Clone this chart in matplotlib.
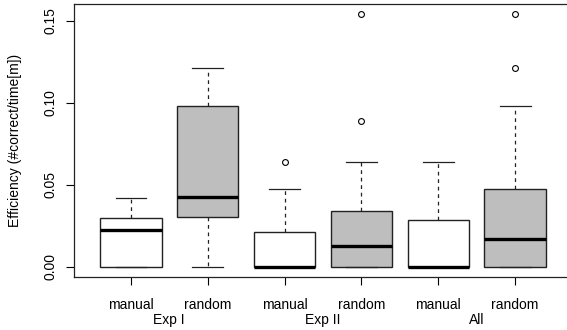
import matplotlib.pyplot as plt

plt.rcParams['font.family'] = ['Liberation Sans', 'DejaVu Sans']

# values
groups = ['Exp I', 'Exp II', 'All']
methods = ['manual', 'random']
q1 = [0.0, 0.0303, 0.0, 0.0, 0.0, 0.0]
medians = [0.0226, 0.0427, 0.0, 0.0130, 0.0, 0.0171]
q3 = [0.0295, 0.0982, 0.0211, 0.0343, 0.0285, 0.0476]
whis_lo = [0.0, 0.0, 0.0, 0.0, 0.0, 0.0]
whis_hi = [0.0417, 0.1215, 0.0472, 0.0638, 0.0638, 0.0982]
fliers = [[], [], [0.0638], [0.0890, 0.1541], [], [0.1215, 0.1541]]
box_colors = ['white', '#bebebe'] * 3

stats = []
for i in range(len(medians)):
    stats.append({
        'med': medians[i], 'q1': q1[i], 'q3': q3[i],
        'whislo': whis_lo[i], 'whishi': whis_hi[i], 'fliers': fliers[i],
    })

fig = plt.figure(figsize=(5.67, 3.30), dpi=100)
ax = fig.add_axes([74 / 567, 53 / 330, 498 / 567, 273 / 330])

positions = list(range(1, len(stats) + 1))
bp = ax.bxp(
    stats, positions=positions, widths=0.8, patch_artist=True,
    boxprops=dict(edgecolor='#222222', linewidth=1.0),
    medianprops=dict(color='black', linewidth=2.4, solid_capstyle='butt'),
    whiskerprops=dict(color='#222222', linewidth=0.9, linestyle=(0, (3, 3))),
    capprops=dict(color='#222222', linewidth=0.9),
    capwidths=0.4,
    flierprops=dict(marker='o', markerfacecolor='none', markeredgecolor='black',
                    markersize=4.2, markeredgewidth=0.8),
)
for patch, c in zip(bp['boxes'], box_colors):
    patch.set_facecolor(c)

ax.set_xlim(0.26, 6.74)
ax.set_ylim(-0.0062, 0.1603)

ax.set_xticks(positions)
ax.set_xticklabels(methods * len(groups), fontsize=10)
ax.set_yticks([0.0, 0.05, 0.10, 0.15])
ax.set_yticklabels(['0.00', '0.05', '0.10', '0.15'], fontsize=10,
                   rotation=90, va='center')
ax.tick_params(axis='both', direction='out', length=6, width=0.8)
ax.tick_params(axis='x', pad=9)
ax.tick_params(axis='y', pad=6)

for spine in ax.spines.values():
    spine.set_linewidth(0.9)
    spine.set_color('#222222')

for j, g in enumerate(groups):
    ax.text(2 * j + 1.5, -0.158, g, transform=ax.get_xaxis_transform(),
            ha='center', va='center', fontsize=10)

fig.text(15 / 567, 1 - 140 / 330, 'Efficiency (#correct/time[m])',
         rotation=90, ha='center', va='center', fontsize=10)

fig.savefig('out.png', dpi=100)
